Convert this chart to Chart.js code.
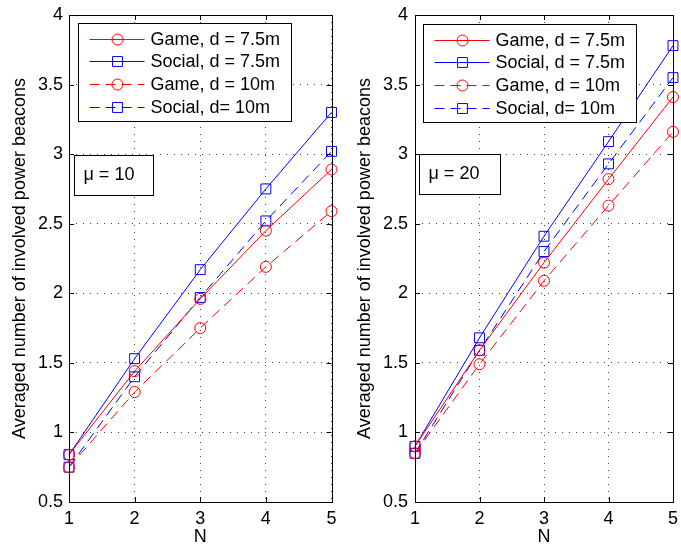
<!DOCTYPE html>
<html>
<head>
<meta charset="utf-8">
<script src="https://cdn.jsdelivr.net/npm/chart.js@4.4.0/dist/chart.umd.min.js"></script>
<style>
    body { margin: 0; background: #fff; width: 681px; height: 548px; overflow: hidden; position: relative; }
    .pane { position: absolute; top: 0; height: 548px; }
</style>
</head>
<body>
<div class="pane" style="left:0;width:340px"><canvas id="left" width="340" height="548"></canvas></div>
<div class="pane" style="left:340px;width:341px"><canvas id="right" width="341" height="548"></canvas></div>
<script>
// N values on the x axis
const N = [1, 2, 3, 4, 5];
const yTicks = [0.5, 1, 1.5, 2, 2.5, 3, 3.5, 4];

const seriesLabels = ['Game, d = 7.5m', 'Social, d = 7.5m', 'Game, d = 10m', 'Social, d= 10m'];

// mu = 10
const game75_mu10 = [0.84, 1.44, 1.96, 2.45, 2.89];
const social75_mu10 = [0.84, 1.53, 2.17, 2.75, 3.30];
const game10_mu10 = [0.75, 1.29, 1.75, 2.19, 2.59];
const social10_mu10 = [0.75, 1.40, 1.97, 2.52, 3.02];

// mu = 20
const game75_mu20 = [0.90, 1.59, 2.22, 2.82, 3.41];
const social75_mu20 = [0.90, 1.68, 2.41, 3.09, 3.78];
const game10_mu20 = [0.85, 1.49, 2.09, 2.63, 3.16];
const social10_mu20 = [0.85, 1.59, 2.30, 2.93, 3.55];

const FONT = 'Liberation Sans, Arial, Helvetica, sans-serif';
const FSIZE = 18;
const RED = '#ff0000';
const BLUE = '#0000ff';
const DASH = [10, 6];

function makeSet(label, values, color, style, dashed) {
    return {
        label: label,
        data: values.map((v, i) => ({ x: N[i], y: v })),
        borderColor: color,
        borderWidth: 1,
        borderDash: dashed ? DASH : [],
        pointStyle: style,
        pointRadius: style === 'circle' ? 5.5 : 7,
        pointBorderColor: color,
        pointBackgroundColor: 'rgba(0,0,0,0)',
        pointBorderWidth: 1,
        fill: false,
        tension: 0,
        clip: false
    };
}

// box, inner ticks, legend and the mu label, drawn MATLAB style
const matlabFrame = {
    id: 'matlabFrame',
    afterDatasetsDraw(chart, args, opts) {
        const ctx = chart.ctx;
        const a = chart.chartArea;
        const xs = chart.scales.x, ys = chart.scales.y;
        ctx.save();
        ctx.strokeStyle = '#000';
        ctx.lineWidth = 1;
        ctx.setLineDash([]);
        ctx.beginPath();
        for (const n of N) {
            const px = Math.round(xs.getPixelForValue(n)) + 0.5;
            ctx.moveTo(px, a.bottom); ctx.lineTo(px, a.bottom - 5);
            ctx.moveTo(px, a.top); ctx.lineTo(px, a.top + 5);
        }
        for (const t of yTicks) {
            const py = Math.round(ys.getPixelForValue(t)) + 0.5;
            ctx.moveTo(a.left, py); ctx.lineTo(a.left + 5, py);
            ctx.moveTo(a.right, py); ctx.lineTo(a.right - 5, py);
        }
        ctx.stroke();
        ctx.strokeRect(Math.round(a.left) + 0.5, Math.round(a.top) + 0.5,
            Math.round(a.right - a.left), Math.round(a.bottom - a.top));

        // legend
        const lx = Math.round(a.left + opts.legendX) + 0.5;
        const ly = Math.round(a.top + opts.legendY) + 0.5;
        const lw = 213, lh = 98;
        ctx.fillStyle = '#fff';
        ctx.fillRect(lx, ly, lw, lh);
        ctx.strokeRect(lx, ly, lw, lh);
        ctx.font = FSIZE + 'px ' + FONT;
        ctx.textBaseline = 'middle';
        chart.data.datasets.forEach((ds, i) => {
            const ry = Math.round(ly + 15 + i * 22.7) + 0.5;
            ctx.strokeStyle = ds.borderColor;
            ctx.setLineDash(ds.borderDash);
            ctx.beginPath();
            ctx.moveTo(lx + 11, ry);
            ctx.lineTo(lx + 66, ry);
            ctx.stroke();
            ctx.setLineDash([]);
            ctx.fillStyle = 'rgba(0,0,0,0)';
            Chart.helpers.drawPoint(ctx, {
                pointStyle: ds.pointStyle,
                radius: ds.pointRadius,
                borderWidth: 1
            }, lx + 39, ry);
            ctx.fillStyle = '#000';
            ctx.fillText(ds.label, lx + 72, ry + 1);
        });

        // mu box
        const mx = Math.round(a.left + opts.muX) + 0.5;
        const my = Math.round(a.top + opts.muY) + 0.5;
        ctx.strokeStyle = '#000';
        ctx.fillStyle = '#fff';
        ctx.fillRect(mx, my, opts.muW, 40);
        ctx.strokeRect(mx, my, opts.muW, 40);
        ctx.fillStyle = '#000';
        ctx.fillText(opts.muText, mx + 9, my + 20);
        ctx.restore();
    }
};

function makeChart(id, sets, cfg) {
    return new Chart(document.getElementById(id), {
        type: 'line',
        data: { datasets: sets },
        plugins: [matlabFrame],
        options: {
            responsive: false,
            animation: false,
            layout: { padding: { top: 15, right: cfg.padRight, left: 0, bottom: 0 } },
            plugins: {
                legend: { display: false },
                tooltip: { enabled: false },
                matlabFrame: cfg.frame
            },
            scales: {
                x: {
                    type: 'linear',
                    min: 1, max: 5,
                    afterFit: s => { s.height = 46; s.paddingLeft = 0; s.paddingRight = 0; },
                    afterBuildTicks: s => { s.ticks = N.map(v => ({ value: v })); },
                    grid: { color: '#444', lineWidth: 1, drawTicks: false },
                    border: { display: false, dash: [1, 6] },
                    ticks: { color: '#000', font: { family: FONT, size: FSIZE }, padding: 6, maxRotation: 0,
                        callback: v => String(v) },
                    title: { display: true, text: 'N', color: '#000', font: { family: FONT, size: FSIZE }, padding: { top: 0, bottom: 0 } }
                },
                y: {
                    min: 0.5, max: 4,
                    afterFit: s => { s.width = cfg.yWidth; s.paddingTop = 0; s.paddingBottom = 0; },
                    afterBuildTicks: s => { s.ticks = yTicks.map(v => ({ value: v })); },
                    grid: { color: '#444', lineWidth: 1, drawTicks: false },
                    border: { display: false, dash: [1, 6] },
                    ticks: { color: '#000', font: { family: FONT, size: FSIZE }, padding: cfg.tickPad,
                        callback: v => String(v) },
                    title: { display: true, text: 'Averaged number of involved power beacons', color: '#000',
                        font: { family: FONT, size: FSIZE }, padding: { top: cfg.titlePad, bottom: 0 } }
                }
            }
        }
    });
}

makeChart('left', [
    makeSet(seriesLabels[0], game75_mu10, RED, 'circle', false),
    makeSet(seriesLabels[1], social75_mu10, BLUE, 'rect', false),
    makeSet(seriesLabels[2], game10_mu10, RED, 'circle', true),
    makeSet(seriesLabels[3], social10_mu10, BLUE, 'rect', true)
], {
    padRight: 8.5, yWidth: 69, tickPad: 6, titlePad: 9,
    frame: { legendX: 9, legendY: 8, muX: 5, muY: 140, muW: 79, muText: 'μ = 10' }
});

makeChart('right', [
    makeSet(seriesLabels[0], game75_mu20, RED, 'circle', false),
    makeSet(seriesLabels[1], social75_mu20, BLUE, 'rect', false),
    makeSet(seriesLabels[2], game10_mu20, RED, 'circle', true),
    makeSet(seriesLabels[3], social10_mu20, BLUE, 'rect', true)
], {
    padRight: 4, yWidth: 75, tickPad: 7, titlePad: 14,
    frame: { legendX: 8, legendY: 9, muX: 4, muY: 139, muW: 81, muText: 'μ = 20' }
});
</script>
</body>
</html>
